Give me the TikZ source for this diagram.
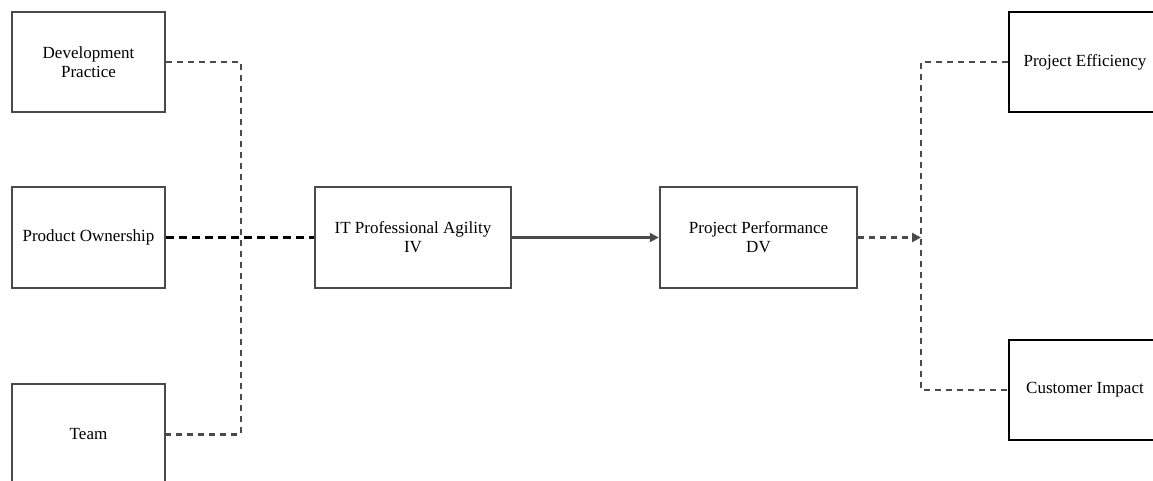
\documentclass[tikz,border=0pt]{standalone}
\usepackage{fontspec}
\setmainfont{Liberation Serif}
\usetikzlibrary{arrows.meta}
\definecolor{lg}{HTML}{4A4A4A}
\begin{document}
\begin{tikzpicture}[x=1pt,y=-1pt,
  gbox/.style={draw=lg,line width=2.5pt,rectangle,inner sep=0pt,align=center,
    font=\fontsize{17}{19}\selectfont},
  kbox/.style={draw=black,line width=2.8pt,rectangle,inner sep=0pt,align=center,
    font=\fontsize{17}{19}\selectfont},
  gdash/.style={draw=lg,line width=2.4pt,dash pattern=on 6pt off 5pt},
  kdash/.style={draw=black,line width=3pt,dash pattern=on 8pt off 5pt},
  gsolid/.style={draw=lg,line width=2.5pt},
  tip/.style={-{Triangle[length=9pt,width=9pt]}}]
\useasboundingbox (0,0) rectangle (1153,480);
\clip (0,0) rectangle (1153,480);
\node[gbox,minimum width=153pt,minimum height=100pt] (dev) at (88.5,62) {Development\\Practice};
\node[gbox,minimum width=153pt,minimum height=101pt] (po) at (88.5,237.5) {Product Ownership};
\node[gbox,minimum width=153pt,minimum height=101pt] (team) at (88.5,434.5) {Team};
\node[gbox,minimum width=196pt,minimum height=101pt] (it) at (413,237.5) {IT Professional Agility\\IV};
\node[gbox,minimum width=197pt,minimum height=101pt] (pp) at (758.5,237.5) {Project Performance\\DV};
\node[kbox,minimum width=152pt,minimum height=100pt] (pe) at (1085,62) {Project Efficiency};
\node[kbox,minimum width=152pt,minimum height=100pt] (ci) at (1085,390) {Customer Impact};
\coordinate (b1) at (241,62);
\coordinate (b2) at (241,434.5);
\coordinate (r1) at (921,62);
\coordinate (r2) at (921,390);
\coordinate (rm) at (921,237.5);
\draw[gdash] (dev.east) -- (b1) -- (b2) -- (team.east);
\draw[kdash] (po.east) -- (it.west);
\draw[gsolid,tip] (it.east) -- (pp.west);
\draw[gdash,tip] (pp.east) -- (rm);
\draw[gdash] (pe.west) -- (r1) -- (r2) -- (ci.west);
\end{tikzpicture}
\end{document}
